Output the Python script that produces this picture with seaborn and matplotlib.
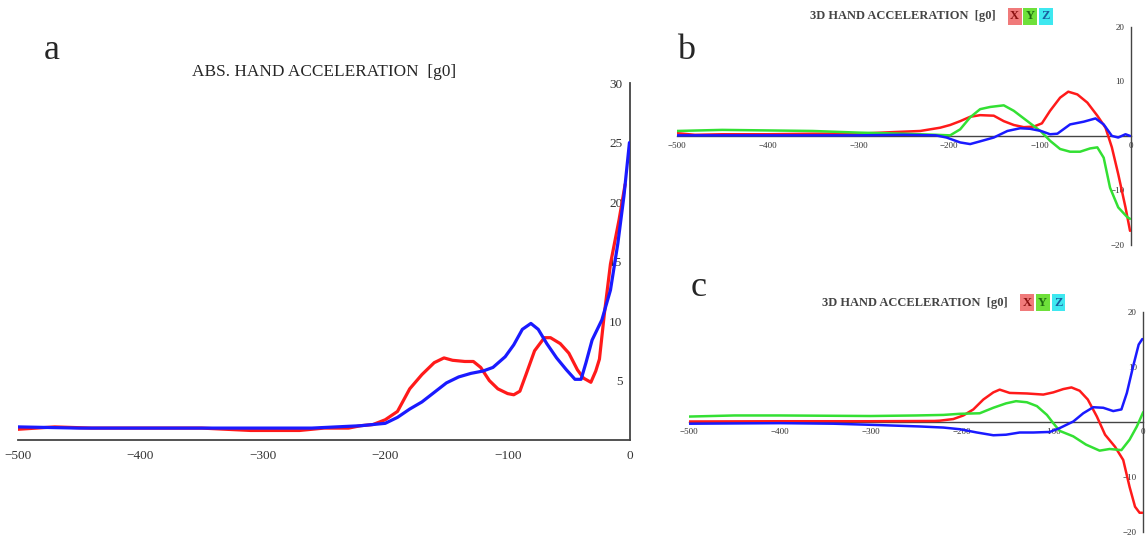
import numpy as np
import pandas as pd
import matplotlib
matplotlib.use("Agg")
import matplotlib.pyplot as plt
import seaborn as sns

sns.set_style("white")
plt.rcParams['font.family'] = ['Liberation Serif', 'DejaVu Serif']

################ PANEL A : ABS. HAND ACCELERATION ################
a_red_t = [-500, -470, -440, -400, -350, -310, -270, -250, -230, -220, -210, -200, -190, -180,
           -170, -160, -152, -145, -135, -128, -122, -115, -108, -100, -95, -90, -85, -78, -70,
           -65, -57, -50, -43, -38, -32, -28, -25, -21, -16, -9, -4]
a_red_v = [0.9, 1.1, 1.0, 1.0, 1.0, 0.8, 0.8, 1.0, 1.0, 1.2, 1.3, 1.7, 2.4, 4.3,
           5.5, 6.5, 6.9, 6.7, 6.6, 6.6, 6.1, 5.0, 4.3, 3.9, 3.8, 4.1, 5.5, 7.5, 8.6,
           8.6, 8.1, 7.3, 5.9, 5.2, 4.85, 5.8, 6.8, 10.6, 14.8, 18.5, 21.5]

a_blue_t = [-500, -450, -400, -350, -300, -260, -240, -220, -210, -200, -190, -180, -170, -160,
            -150, -140, -130, -120, -112, -102, -95, -88, -81, -75, -68, -60, -52, -45, -40,
            -36, -31, -23, -16, -10, -5, -2, -0.5]
a_blue_v = [1.1, 1.0, 1.0, 1.0, 1.0, 1.0, 1.1, 1.2, 1.3, 1.4, 1.9, 2.6, 3.2, 4.0,
            4.8, 5.3, 5.6, 5.8, 6.1, 7.0, 8.0, 9.3, 9.8, 9.3, 8.1, 6.9, 5.9, 5.1, 5.1,
            6.5, 8.4, 10.1, 12.6, 16.5, 20.5, 23.5, 25.0]

################ PANEL B : 3D HAND ACCELERATION ################
b_x_t = [-500, -480, -450, -400, -350, -300, -261, -232, -210, -199, -188, -177, -166, -151,
         -140, -129, -118, -107, -98, -89, -78, -69, -59, -48, -37, -28, -21, -14, -6, -1]
b_x_v = [0.5, 0.2, 0.3, 0.3, 0.4, 0.4, 0.7, 0.9, 1.5, 2.0, 2.7, 3.5, 3.8, 3.7,
         2.7, 2.0, 1.6, 1.7, 2.3, 4.6, 7.0, 8.1, 7.6, 6.1, 3.7, 1.5, -2.1, -7.0, -13.1, -17.4]

b_y_t = [-500, -450, -400, -350, -300, -250, -215, -199, -188, -177, -166, -155, -140, -129,
         -114, -99, -89, -78, -67, -56, -45, -37, -30, -23, -14, -4, -1]
b_y_v = [0.9, 1.1, 1.0, 0.9, 0.6, 0.4, 0.2, 0.1, 1.2, 3.4, 4.9, 5.3, 5.6, 4.6,
         2.7, 0.8, -0.9, -2.4, -2.9, -2.9, -2.3, -2.1, -4.0, -9.5, -13.1, -14.9, -15.2]

b_z_t = [-500, -400, -300, -250, -215, -203, -188, -177, -166, -151, -136, -122, -111, -99,
         -89, -81, -67, -52, -39, -30, -21, -14, -6, -1]
b_z_v = [0.1, 0.1, 0.1, 0.2, 0.1, -0.3, -1.2, -1.5, -1.0, -0.3, 0.9, 1.4, 1.3, 0.9,
         0.3, 0.4, 2.1, 2.6, 3.2, 2.1, 0.0, -0.3, 0.3, 0.0]

################ PANEL C : 3D HAND ACCELERATION ################
c_x_t = [-500, -400, -300, -230, -224, -209, -198, -187, -176, -165, -158, -147, -128, -110,
         -99, -88, -79, -70, -61, -51, -42, -31, -22, -15, -9, -4, -1]
c_x_v = [0.1, 0.15, 0.15, 0.2, 0.25, 0.55, 1.2, 2.3, 4.1, 5.4, 5.9, 5.3, 5.2, 5.0,
         5.4, 6.0, 6.3, 5.7, 4.1, 1.0, -2.3, -4.5, -6.9, -11.8, -15.4, -16.5, -16.5]

c_y_t = [-500, -450, -400, -300, -250, -220, -202, -180, -165, -151, -140, -128, -117, -106,
         -99, -92, -77, -63, -48, -37, -24, -15, -7, 0]
c_y_v = [1.0, 1.2, 1.2, 1.1, 1.2, 1.3, 1.5, 1.6, 2.6, 3.4, 3.8, 3.6, 2.9, 1.3,
         -0.2, -1.6, -2.6, -4.1, -5.2, -4.9, -5.1, -3.2, -0.8, 1.8]

c_z_t = [-500, -400, -341, -300, -246, -220, -202, -183, -165, -151, -136, -121, -103, -92,
         -77, -66, -55, -44, -33, -24, -18, -11, -5, -1]
c_z_v = [-0.3, -0.2, -0.3, -0.5, -0.8, -1.0, -1.3, -1.9, -2.4, -2.3, -1.9, -1.9, -1.8, -1.1,
         0.1, 1.6, 2.7, 2.6, 2.0, 2.3, 5.3, 10.2, 14.1, 15.1]

x_ticks = [-500, -400, -300, -200, -100, 0]
RED, GREEN, BLUE = '#ff1a1a', '#33e033', '#1a1aff'


def long_df(pairs):
    frames = []
    for name, t, v in pairs:
        frames.append(pd.DataFrame({'t': t, 'v': v, 'axis': name}))
    return pd.concat(frames, ignore_index=True)


def style_axes(ax, ylim, yticks, fs, lw_axis):
    ax.set_xlim(-500, 0)
    ax.set_ylim(*ylim)
    for s in ['top', 'right']:
        ax.spines[s].set_visible(False)
    ax.spines['left'].set_position(('data', 0))
    ax.spines['bottom'].set_position(('data', 0))
    for s in ['left', 'bottom']:
        ax.spines[s].set_color('#444444')
        ax.spines[s].set_linewidth(lw_axis)
        ax.spines[s].set_zorder(1)
    ax.set_xticks(x_ticks)
    ax.set_yticks(yticks)
    ax.tick_params(axis='both', direction='inout', length=7, width=lw_axis,
                   color='#444444', labelsize=fs, labelcolor='#333333', pad=2)
    ax.set_xlabel('')
    ax.set_ylabel('')
    ax.patch.set_alpha(0)


fig = plt.figure(figsize=(11.47, 5.35), dpi=100)

# ---- panel a ----
ax_a = fig.add_axes([0.0157, 0.1776, 0.5336, 0.667])
df_a = long_df([('red', a_red_t, a_red_v), ('blue', a_blue_t, a_blue_v)])
sns.lineplot(data=df_a, x='t', y='v', hue='axis', palette={'red': RED, 'blue': BLUE},
             estimator=None, sort=False, linewidth=2.3, legend=False, ax=ax_a)
style_axes(ax_a, (0, 30), [5, 10, 15, 20, 25, 30], 9.5, 1.3)
ax_a.tick_params(axis='x', pad=4)
ax_a.set_title('ABS. HAND ACCELERATION  [g0]', fontsize=12.4, pad=5, x=0.5)
fig.text(0.038, 0.905, 'a', fontsize=26, va='center')

# ---- panels b and c ----
panels = [
    ('b', [0.590, 0.542, 0.396, 0.408], [('X', b_x_t, b_x_v), ('Y', b_y_t, b_y_v), ('Z', b_z_t, b_z_v)],
     0.970, (0.590, 0.905)),
    ('c', [0.6007, 0.0056, 0.396, 0.411], [('X', c_x_t, c_x_v), ('Y', c_y_t, c_y_v), ('Z', c_z_t, c_z_v)],
     0.434, (0.602, 0.463)),
]

for letter, rect, pairs, title_y, letter_pos in panels:
    ax = fig.add_axes(rect)
    df = long_df(pairs)
    sns.lineplot(data=df, x='t', y='v', hue='axis', palette={'X': RED, 'Y': GREEN, 'Z': BLUE},
                 estimator=None, sort=False, linewidth=1.8, legend=False, ax=ax)
    style_axes(ax, (-20, 20), [-20, -10, 10, 20], 6.5, 1.0)
    ax.tick_params(axis='both', length=5)
    x0 = rect[0]
    fig.text(x0 + 0.278, title_y, '3D HAND ACCELERATION  [g0]', fontsize=9,
             fontweight='bold', color='#444444', ha='right', va='center')
    for i, (lab, bg, fg) in enumerate([('X', '#f07a7a', '#8a1010'),
                                        ('Y', '#6ee03a', '#1d6a10'),
                                        ('Z', '#3ee8f0', '#1a5fa0')]):
        fig.text(x0 + 0.2945 + i * 0.0137, title_y, lab, fontsize=9, fontweight='bold',
                 color=fg, ha='center', va='center',
                 bbox=dict(boxstyle='square,pad=0.2', fc=bg, ec='none'))
    fig.text(letter_pos[0], letter_pos[1], letter, fontsize=26, va='center')

fig.savefig('out.png', dpi=100)
